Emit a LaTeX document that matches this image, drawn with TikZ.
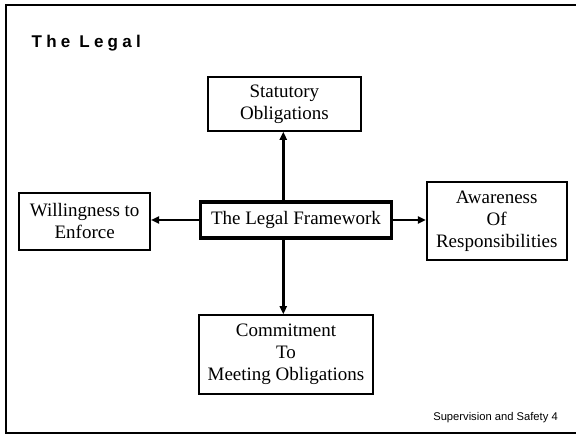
\documentclass[tikz,border=0pt]{standalone}
\usepackage{fontspec}
\setmainfont{Liberation Serif}
\newfontfamily\headfont[LetterSpace=25]{Liberation Sans}
\newfontfamily\footfont{Liberation Sans}
\usetikzlibrary{arrows.meta}
\begin{document}
\begin{tikzpicture}[x=1pt,y=-1pt,
  box/.style={draw,line width=1.6pt,align=center,inner sep=0pt,
    font=\fontsize{19}{22}\selectfont},
  hub/.style={box,line width=3.4pt},
  arr/.style={line width=2.4pt,-{Triangle[length=8pt,width=7pt]}}]
\useasboundingbox (0,0) rectangle (576,435);
% slide frame (open on the right)
\draw[line width=2pt] (576,5) -- (6,5) -- (6,433.5) -- (576,433.5);
% heading and footer
\node[anchor=base west,inner sep=0pt,font=\headfont\fontsize{17}{19}\selectfont\bfseries] (title) at (31.5,47.7) {The Legal};
\node[anchor=base east,inner sep=0pt,font=\footfont\fontsize{11.2}{13}\selectfont] (foot) at (558,420.5) {Supervision and Safety 4};
% boxes
\node[hub,minimum width=191pt,minimum height=36pt] (hubbox) at (296,220) {The Legal Framework};
\node[box,minimum width=153pt,minimum height=54pt] (stat) at (284.4,104) {Statutory\\Obligations};
\node[box,minimum width=131pt,minimum height=57pt] (will) at (84.7,221.4) {Willingness to\\Enforce};
\node[box,minimum width=140pt,minimum height=78pt] (aware) at (496.7,221) {Awareness\\Of\\Responsibilities};
\node[box,minimum width=174pt,minimum height=79pt] (commit) at (286,354.5) {Commitment\\To\\Meeting Obligations};
% connectors
\coordinate (vx) at (283.3,0);
\draw[arr] (hubbox.north -| vx) -- (stat.south -| vx);
\draw[arr] (hubbox.south -| vx) -- (commit.north -| vx);
\draw[arr] (hubbox.west) -- (hubbox.west -| will.east);
\draw[arr] (hubbox.east) -- (hubbox.east -| aware.west);
\end{tikzpicture}
\end{document}
